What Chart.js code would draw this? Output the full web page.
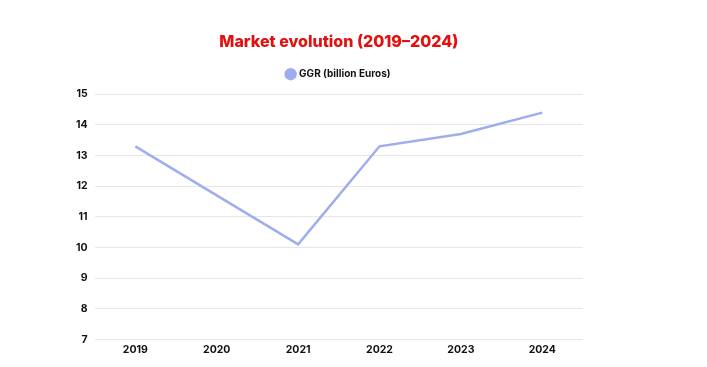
<!DOCTYPE html>
<html>
<head>
<meta charset="utf-8">
<script src="https://cdn.jsdelivr.net/npm/chart.js@4/dist/chart.umd.min.js"></script>
<style>
  html, body { margin: 0; padding: 0; background: #fff; }
  #wrap { width: 680px; height: 367px; position: relative; }
</style>
</head>
<body>
<div id="wrap"><canvas id="chart"></canvas></div>
<script>
// Datos
const years = ['2019', '2020', '2021', '2022', '2023', '2024'];
const ggrValues = [13.3, 11.7, 10.1, 13.3, 13.7, 14.4];
const seriesLabel = 'GGR (billion Euros)';
const yTicks = [7, 8, 9, 10, 11, 12, 13, 14, 15];

const lineColor = '#9eadf0';

// un poco más de aire bajo la leyenda
const legendSpacer = {
    id: 'legendSpacer',
    beforeInit(chart) {
        const fit = chart.legend.fit;
        chart.legend.fit = function () {
            fit.call(this);
            this.height += 5;
        };
    }
};

new Chart(document.getElementById('chart').getContext('2d'), {
    type: 'line',
    data: {
        labels: years,
        datasets: [{
            label: seriesLabel,
            data: ggrValues,
            borderColor: lineColor,
            backgroundColor: lineColor,
            borderWidth: 2.5,
            pointRadius: 0,
            tension: 0
        }]
    },
    plugins: [legendSpacer],
    options: {
        responsive: true,
        maintainAspectRatio: false,
        animation: false,
        layout: { padding: { left: 69, right: 97, top: 20, bottom: 7 } },
        plugins: {
            title: {
                display: true,
                fullSize: false,
                text: 'Market evolution (2019–2024)',
                color: '#e3100f',
                font: { family: 'Inter', size: 16, weight: '800' },
                padding: { top: 13, bottom: 4 }
            },
            legend: {
                position: 'top',
                fullSize: false,
                labels: {
                    usePointStyle: true,
                    pointStyle: 'circle',
                    boxWidth: 7,
                    boxHeight: 7,
                    color: '#111',
                    font: { family: 'Inter', size: 10, weight: 'bold' },
                    padding: 13
                }
            },
            tooltip: { enabled: false }
        },
        scales: {
            x: {
                offset: true,
                grid: { display: false, drawTicks: false },
                border: { display: false },
                ticks: {
                    color: '#111',
                    font: { family: 'Inter', size: 10.5, weight: 'bold' },
                    padding: 4
                }
            },
            y: {
                min: 7,
                max: 15,
                afterBuildTicks: axis => { axis.ticks = yTicks.map(v => ({ value: v })); },
                grid: { color: '#e6e6e6', drawTicks: false },
                border: { display: false },
                ticks: {
                    color: '#111',
                    font: { family: 'Inter', size: 10.5, weight: 'bold' },
                    padding: 7
                }
            }
        }
    }
});
</script>
</body>
</html>
